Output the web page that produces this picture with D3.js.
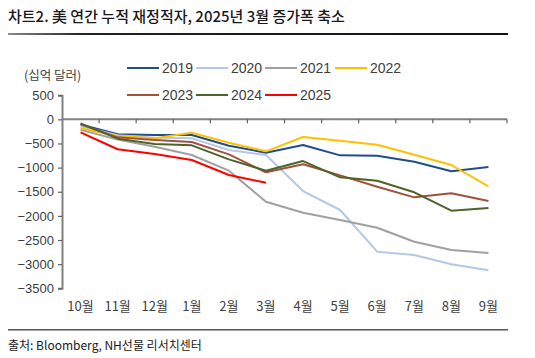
<!DOCTYPE html>
<html><head><meta charset="utf-8">
<script src="https://cdn.jsdelivr.net/npm/d3@7"></script>
<style>
html,body{margin:0;padding:0;background:#fff;}
svg{display:block;font-family:"Noto Sans CJK KR","Noto Sans",sans-serif;}
</style></head>
<body>
<svg id="c" width="535" height="358"></svg>
<script>
const months = ["10월","11월","12월","1월","2월","3월","4월","5월","6월","7월","8월","9월"];
const yTicks = [500,0,-500,-1000,-1500,-2000,-2500,-3000,-3500];
const years = ["2019","2020","2021","2022","2023","2024","2025"];
const colors = ["#1f4e8c","#b4c7e7","#a0a0a0","#ffc000","#a0523c","#4f6228","#ff0000"];
const s2019 = [-104,-310,-325,-325,-546,-691,-532,-746,-753,-877,-1077,-988];
const s2020 = [-145,-330,-380,-394,-636,-739,-1485,-1878,-2742,-2810,-3003,-3128];
const s2021 = [-215,-420,-567,-739,-1064,-1706,-1934,-2086,-2245,-2535,-2707,-2769];
const s2022 = [-186,-345,-394,-277,-484,-663,-367,-443,-525,-733,-946,-1388];
const s2023 = [-104,-373,-429,-470,-725,-1098,-932,-1160,-1395,-1616,-1533,-1692];
const s2024 = [-83,-400,-512,-539,-829,-1064,-864,-1202,-1271,-1512,-1892,-1837];
const s2025 = [-270,-620,-719,-843,-1154,-1313];
const seriesValues = [s2019,s2020,s2021,s2022,s2023,s2024,s2025];

const svg = d3.select("#c");
const x = d3.scaleBand().domain(months).range([62,507]);
const y = d3.scaleLinear().domain([-3500,500]).range([288.3,95.2]);

// title
svg.append("text").attr("x",8).attr("y",22).attr("font-size",15).attr("font-weight",500)
  .attr("fill","#1a1a1a").text("차트2. 美 연간 누적 재정적자, 2025년 3월 증가폭 축소");
const grad = svg.append("defs").append("linearGradient").attr("id","tg");
grad.append("stop").attr("offset","0%").attr("stop-color","#888");
grad.append("stop").attr("offset","15%").attr("stop-color","#222");
grad.append("stop").attr("offset","100%").attr("stop-color","#111");
svg.append("rect").attr("x",8).attr("y",33).attr("width",500).attr("height",2).attr("fill","url(#tg)");

// unit
svg.append("text").attr("x",24).attr("y",80).attr("font-size",12.5).attr("fill","#404040").text("(십억 달러)");

// y axis
const yAxis = d3.axisLeft(y).tickValues(yTicks).tickSize(4).tickPadding(4)
  .tickFormat(d => d < 0 ? "\u2212" + Math.abs(d) : String(d));
const gy = svg.append("g").attr("transform","translate(62,0)").call(yAxis);
gy.select(".domain").attr("stroke","#808080").attr("stroke-width",2);
gy.selectAll(".tick line").attr("stroke","#606060").attr("stroke-width",1.2);
gy.selectAll(".tick text").attr("font-size",13).attr("fill","#404040")
  .attr("font-family","'Liberation Sans',Arial,sans-serif");

// x axis at zero
const gx = svg.append("g").attr("transform",`translate(0,${y(0)})`);
gx.append("line").attr("x1",62).attr("x2",507).attr("stroke","#808080").attr("stroke-width",2);
const bounds = months.map(m => x(m)).concat([x.range()[1]]);
gx.selectAll("line.tk").data(bounds.slice(1)).join("line").attr("class","tk")
  .attr("x1",d=>d).attr("x2",d=>d).attr("y1",0).attr("y2",4).attr("stroke","#606060").attr("stroke-width",1.2);
svg.append("g").selectAll("text").data(months).join("text")
  .attr("x",d=>x(d)+x.bandwidth()/2).attr("y",311).attr("text-anchor","middle")
  .attr("font-size",13).attr("fill","#404040").text(d=>d);

// lines
const line = d3.line().x((d,i)=>x(months[i])+x.bandwidth()/2).y(d=>y(d));
seriesValues.forEach((vals,k)=>{
  svg.append("path").datum(vals).attr("d",line).attr("fill","none")
    .attr("stroke",colors[k]).attr("stroke-width",2).attr("stroke-linejoin","round");
});

// legend
const legPos = [[127,68],[196,68],[265,68],[335,68],[127,95],[196,95],[265,95]];
years.forEach((yr,k)=>{
  const [lx,ly] = legPos[k];
  svg.append("line").attr("x1",lx).attr("x2",lx+32).attr("y1",ly).attr("y2",ly)
    .attr("stroke",colors[k]).attr("stroke-width",2);
  svg.append("text").attr("x",lx+35).attr("y",ly+5).attr("font-size",14).attr("fill","#404040")
    .attr("font-family","'Liberation Sans',Arial,sans-serif").text(yr);
});

// bottom rule + source
svg.append("rect").attr("x",8).attr("y",329).attr("width",500).attr("height",1.5).attr("fill","#555");
svg.append("text").attr("x",8).attr("y",350).attr("font-size",12).attr("fill","#1a1a1a")
  .text("출처: Bloomberg, NH선물 리서치센터");
</script>
</body></html>
